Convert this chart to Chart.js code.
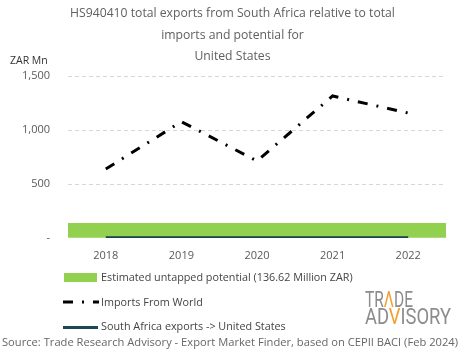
<!DOCTYPE html>
<html>
<head>
<meta charset="utf-8">
<script src="https://cdn.jsdelivr.net/npm/chart.js@4"></script>
<style>
  html, body { margin: 0; padding: 0; background: #fff; }
  #wrap { position: relative; width: 465px; height: 359px; overflow: hidden; font-family: "Open Sans", sans-serif; }
  #c { position: absolute; left: 0; top: 0; }
  .t { position: absolute; white-space: nowrap; }
  #title { left: 0; width: 465px; top: 2px; text-align: center; color: #606060; font-size: 12.2px; line-height: 21.5px; }
  #unit { left: 10px; top: 53px; font-size: 10.5px; color: #333; }
  .lg { position: absolute; left: 101px; font-size: 10.8px; color: #444; }
  #src { left: 2px; top: 335px; font-size: 10.5px; color: #666; transform-origin: 0 0; }
  #logo1, #logo2 { font-family: Roboto, sans-serif; font-weight: 400; color: #8c8c8c; font-size: 22px; line-height: 16px; transform-origin: 0 0; }
  .or { color: #f0a030; }
</style>
</head>
<body>
<div id="wrap">
  <canvas id="c" width="465" height="359"></canvas>
  <div id="title" class="t">HS940410 total exports from South Africa relative to total<br>imports and potential for<br>United States</div>
  <div id="unit" class="t">ZAR Mn</div>
  <div class="lg t" style="top:269px">Estimated untapped potential (136.62 Million ZAR)</div>
  <div class="lg t" style="top:294px">Imports From World</div>
  <div class="lg t" style="top:318px">South Africa exports -&gt; United States</div>
  <div id="logo1" class="t" style="left:365px; top:292px">TR<span class="or">Λ</span>DE</div>
  <div id="logo2" class="t" style="left:365px; top:309px">AD<span class="or">V</span>ISORY</div>
  <div id="src" class="t">Source: Trade Research Advisory - Export Market Finder, based on CEPII BACI (Feb 2024)</div>
</div>
<script>
const years = ["2018", "2019", "2020", "2021", "2022"];
const importsFromWorld = [639, 1077, 713, 1315, 1157];
const saExportsToUS = [1.5, 2.5, 1.2, 2.0, 1.6];
const untappedPotential = [136.62, 136.62, 136.62, 136.62, 136.62];
const yTicks = [0, 500, 1000, 1500];

// fit a few texts to the widths seen in the reference
function fitWidth(id, target) {
  const el = document.getElementById(id);
  const w = el.getBoundingClientRect().width;
  el.style.transform = 'scaleX(' + (target / w) + ')';
}
fitWidth('src', 456);
fitWidth('logo1', 48);
fitWidth('logo2', 86);

// legend swatches
const legendSwatches = {
  id: 'legendSwatches',
  afterDraw(chart) {
    const ctx = chart.ctx;
    ctx.save();
    ctx.fillStyle = '#92d050';
    ctx.fillRect(64, 273, 33, 9);
    ctx.strokeStyle = '#000';
    ctx.lineWidth = 3;
    ctx.setLineDash([10, 9, 2, 9]);
    ctx.beginPath(); ctx.moveTo(63, 302); ctx.lineTo(99, 302); ctx.stroke();
    ctx.setLineDash([]);
    ctx.strokeStyle = '#1d4658';
    ctx.beginPath(); ctx.moveTo(63, 327.5); ctx.lineTo(98, 327.5); ctx.stroke();
    ctx.restore();
  }
};

new Chart(document.getElementById('c'), {
  data: {
    labels: years,
    datasets: [
      {
        type: 'bar', label: 'Estimated untapped potential (136.62 Million ZAR)',
        data: untappedPotential, backgroundColor: '#92d050',
        barPercentage: 1, categoryPercentage: 1, order: 3
      },
      {
        type: 'line', label: 'Imports From World', data: importsFromWorld,
        borderColor: '#000', borderWidth: 3, borderDash: [10, 9, 2, 9],
        pointRadius: 0, fill: false, tension: 0, order: 1
      },
      {
        type: 'line', label: 'South Africa exports -> United States', data: saExportsToUS,
        borderColor: '#17414c', borderWidth: 3, pointRadius: 0, fill: false, tension: 0.3, order: 2
      }
    ]
  },
  options: {
    responsive: false,
    animation: false,
    devicePixelRatio: 1,
    layout: { padding: { top: 76, bottom: 91, left: 0, right: 19 } },
    plugins: { legend: { display: false }, title: { display: false }, tooltip: { enabled: false } },
    scales: {
      x: {
        offset: true,
        grid: { display: false, drawTicks: false },
        border: { display: false },
        ticks: { color: '#595959', font: { family: 'Open Sans', size: 11 }, padding: 11 },
        afterFit(s) { s.height = 30; }
      },
      y: {
        min: 0, max: 1500,
        afterBuildTicks(s) { s.ticks = yTicks.map(v => ({ value: v })); },
        grid: {
          color: (c) => c.tick && c.tick.value === 0 ? 'rgba(0,0,0,0)' : '#d6d6d6',
          lineWidth: 1, drawTicks: false
        },
        border: { display: false, dash: [4, 3] },
        ticks: {
          color: '#595959', font: { family: 'Open Sans', size: 11 }, padding: 18,
          callback: (v) => v === 0 ? '-' : v.toLocaleString('en-US')
        },
        afterFit(s) { s.width = 68; }
      }
    }
  },
  plugins: [legendSwatches]
});
</script>
</body>
</html>
